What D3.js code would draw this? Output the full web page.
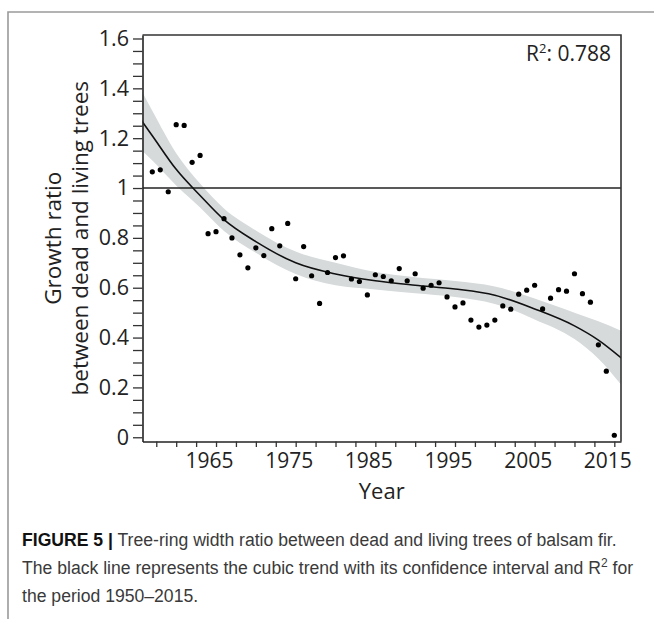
<!DOCTYPE html>
<html>
<head>
<meta charset="utf-8">
<script src="https://cdn.jsdelivr.net/npm/d3@7"></script>
<style>
  html, body { margin: 0; padding: 0; background: #fff; }
  svg { display: block; }
</style>
</head>
<body>
<svg id="chart" width="654" height="619"></svg>
<script>
// Yearly growth ratio of dead vs living balsam fir
const years = [1957,1958,1959,1960,1961,1962,1963,1964,1965,1966,1967,1968,1969,1970,
  1971,1972,1973,1974,1975,1976,1977,1978,1979,1980,1981,1982,1983,1984,1985,1986,
  1987,1988,1989,1990,1991,1992,1993,1994,1995,1996,1997,1998,1999,2000,2001,2002,
  2003,2004,2005,2006,2007,2008,2009,2010,2011,2012,2013,2014,2015];
const ratio = [1.065,1.073,0.985,1.254,1.251,1.103,1.131,0.817,0.825,0.877,0.800,0.732,0.680,0.760,
  0.729,0.837,0.768,0.858,0.636,0.765,0.648,0.537,0.661,0.721,0.728,0.635,0.625,0.571,0.652,0.645,
  0.628,0.677,0.628,0.656,0.598,0.610,0.620,0.563,0.523,0.539,0.470,0.442,0.450,0.470,0.527,0.514,
  0.574,0.590,0.610,0.515,0.558,0.592,0.586,0.656,0.576,0.542,0.371,0.265,0.008];

// Cubic trend with its confidence band
const trendYears = [1955,1957,1960,1963,1966,1970,1975,1980,1985,1990,1995,2000,2005,2010,2013,2016];
const trendFit   = [1.300,1.210,1.075,0.970,0.873,0.785,0.700,0.655,0.628,0.610,0.595,0.570,0.515,0.447,0.390,0.315];
const trendLow   = [1.170,1.110,1.010,0.922,0.828,0.740,0.655,0.610,0.593,0.578,0.563,0.535,0.473,0.394,0.315,0.205];
const trendHigh  = [1.430,1.310,1.140,1.018,0.918,0.830,0.745,0.700,0.663,0.642,0.627,0.605,0.557,0.500,0.465,0.425];

const rSquared = "0.788";
const yTickLabels = ["0","0.2","0.4","0.6","0.8","1","1.2","1.4","1.6"];
const xTickLabels = ["1965","1975","1985","1995","2005","2015"];

const svg = d3.select("#chart");
const plotL = 142.5, plotR = 621, plotT = 35, plotB = 441.5;

const x = d3.scaleLinear().domain([1955.77, 2015.84]).range([plotL, plotR]);
const y = d3.scaleLinear().domain([-0.017, 1.614]).range([plotB, plotT]);

// outer figure frame
svg.append("path")
  .attr("d", `M8,619 V12 H654`)
  .attr("fill", "none").attr("stroke", "#9a9a9a").attr("stroke-width", 1.6);

svg.append("clipPath").attr("id", "plotclip")
  .append("rect").attr("x", plotL).attr("y", plotT).attr("width", plotR - plotL).attr("height", plotB - plotT);

const plot = svg.append("g").attr("clip-path", "url(#plotclip)");

const band = trendYears.map((t, i) => ({ t, lo: trendLow[i], hi: trendHigh[i], f: trendFit[i] }));

plot.append("path")
  .datum(band)
  .attr("fill", "#d6dadb")
  .attr("d", d3.area().curve(d3.curveMonotoneX)
    .x(d => x(d.t)).y0(d => y(d.lo)).y1(d => y(d.hi)));

// reference line at ratio 1
plot.append("line")
  .attr("x1", plotL).attr("x2", plotR).attr("y1", y(1)).attr("y2", y(1))
  .attr("stroke", "#222").attr("stroke-width", 1.5);

plot.append("path")
  .datum(band)
  .attr("fill", "none").attr("stroke", "#111").attr("stroke-width", 1.6)
  .attr("d", d3.line().curve(d3.curveMonotoneX).x(d => x(d.t)).y(d => y(d.f)));

plot.selectAll("circle.pt")
  .data(years.map((yr, i) => ({ yr, v: ratio[i] })))
  .join("circle").attr("class", "pt")
  .attr("cx", d => x(d.yr)).attr("cy", d => y(d.v)).attr("r", 2.6)
  .attr("fill", "#000");

// top and right border of the plot
svg.append("path")
  .attr("d", `M${plotL},${plotT} H${plotR} V${plotB}`)
  .attr("fill", "none").attr("stroke", "#333").attr("stroke-width", 1.6);

// y axis: minor ticks every 0.05, labels every 0.2
const yTicks = d3.range(0, 33).map(i => i * 0.05);
const yAxis = d3.axisLeft(y).tickValues(yTicks).tickSize(9.5).tickSizeOuter(0).tickPadding(4)
  .tickFormat(d => {
    const k = Math.round(d / 0.2);
    return Math.abs(d - k * 0.2) < 1e-6 ? yTickLabels[k] : "";
  });
const gy = svg.append("g").attr("transform", `translate(${plotL},0)`).call(yAxis);
gy.select(".domain").attr("stroke", "#222").attr("stroke-width", 1.6);
gy.selectAll(".tick line").attr("stroke", "#333").attr("stroke-width", 1.3);
gy.selectAll(".tick text").attr("font-family", "'Open Sans', sans-serif").attr("font-size", 21.5).attr("fill", "#222");

// x axis: ticks every 2.5 years, labels each decade
const xTicks = d3.range(0, 24).map(i => 1957.5 + i * 2.5);
const xAxis = d3.axisBottom(x).tickValues(xTicks).tickSize(5.5).tickSizeOuter(0).tickPadding(6)
  .tickFormat(d => xTickLabels.includes(String(d)) ? String(d) : "");
const gx = svg.append("g").attr("transform", `translate(0,${plotB})`).call(xAxis);
gx.select(".domain").attr("stroke", "#222").attr("stroke-width", 1.6);
gx.selectAll(".tick line").attr("stroke", "#333").attr("stroke-width", 1.3);
gx.selectAll(".tick text").attr("font-family", "'Open Sans', sans-serif").attr("font-size", 21)
  .attr("fill", "#222").attr("dx", -7);

// axis titles
svg.append("text")
  .attr("x", (plotL + plotR) / 2).attr("y", 499)
  .attr("text-anchor", "middle")
  .attr("font-family", "'Open Sans', sans-serif").attr("font-size", 22).attr("fill", "#222")
  .text("Year");

const yTitle = svg.append("text")
  .attr("transform", `translate(0,${(plotT + plotB) / 2}) rotate(-90)`)
  .attr("text-anchor", "middle")
  .attr("font-family", "'Open Sans', sans-serif").attr("font-size", 22.5).attr("fill", "#222");
yTitle.append("tspan").attr("x", 0).attr("y", 61).text("Growth ratio");
yTitle.append("tspan").attr("x", 0).attr("y", 88).text("between dead and living trees");

// R squared of the cubic fit
const r2 = svg.append("text")
  .attr("x", 611).attr("y", 61).attr("text-anchor", "end")
  .attr("font-family", "'Open Sans', sans-serif").attr("font-size", 21).attr("fill", "#222");
r2.append("tspan").text("R");
r2.append("tspan").attr("font-size", 13).attr("dy", -8).text("2");
r2.append("tspan").attr("dy", 8).text(": " + rSquared);

// caption
const cap = svg.append("g").attr("font-family", "'Liberation Sans', Arial, sans-serif").attr("font-size", 17.6);
const l1 = cap.append("text").attr("x", 22).attr("y", 546).attr("fill", "#3a3a3a");
l1.append("tspan").attr("font-weight", "bold").attr("fill", "#111").text("FIGURE 5 |");
l1.append("tspan").text(" Tree-ring width ratio between dead and living trees of balsam fir.");
const l2 = cap.append("text").attr("x", 22).attr("y", 574).attr("fill", "#3a3a3a");
l2.append("tspan").text("The black line represents the cubic trend with its confidence interval and R");
l2.append("tspan").attr("font-size", 12).attr("dy", -7).text("2");
l2.append("tspan").attr("dy", 7).text(" for");
cap.append("text").attr("x", 22).attr("y", 602).attr("fill", "#3a3a3a").text("the period 1950–2015.");
</script>
</body>
</html>
